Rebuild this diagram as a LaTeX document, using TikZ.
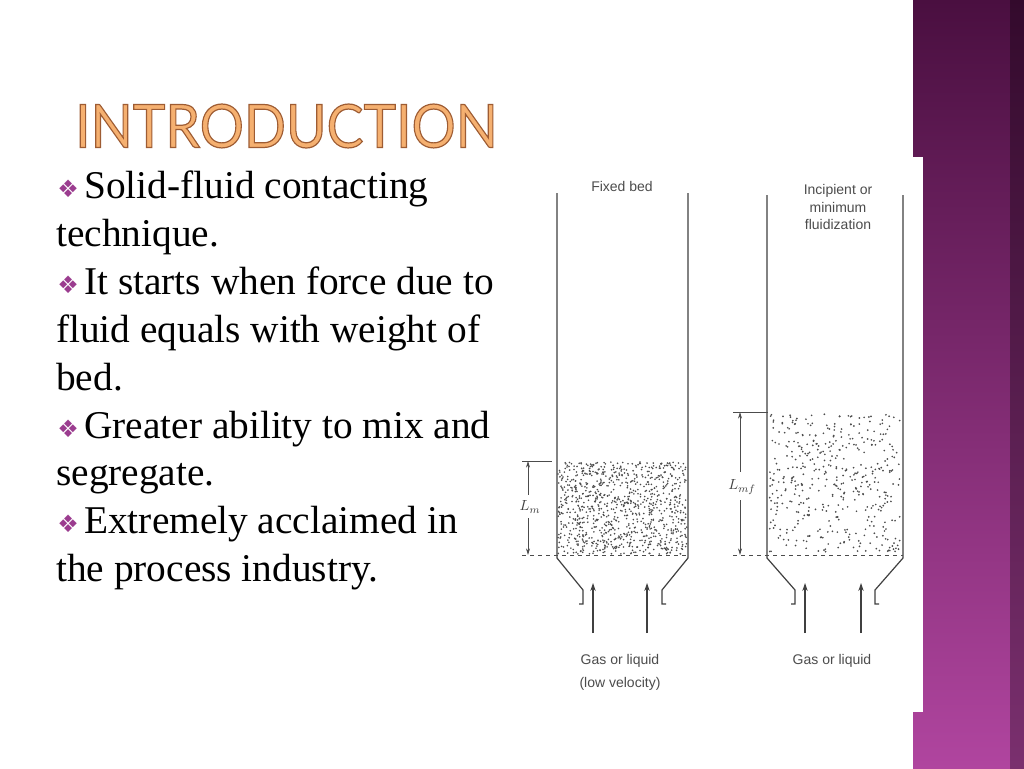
\documentclass[tikz,border=0pt]{standalone}
\usepackage{fontspec}
\setmainfont{Liberation Serif}
\newfontfamily\titlefont{Lato}
\newfontfamily\symfont{DejaVu Sans}
\newfontfamily\labfont{Liberation Sans}
\definecolor{bul}{HTML}{9B3C8F}
\definecolor{ptop}{HTML}{4A0F40}
\definecolor{pbot}{HTML}{B0459F}
\definecolor{tfill}{HTML}{F5B070}
\tikzset{wall/.style={draw=black!75,line width=0.9pt},
 dim/.style={draw=black!70,line width=0.6pt},
 arr/.style={draw=black!75,line width=0.8pt,-{Stealth[length=6pt,width=4pt]}},
 lab/.style={font=\labfont\fontsize{10.5}{13}\selectfont,text=black!70,inner sep=0pt},
 btxt/.style={anchor=base west,font=\fontsize{29.5}{30}\selectfont,inner sep=0pt}}
\usetikzlibrary{arrows.meta}
\begin{document}
\begin{tikzpicture}[x=0.75pt,y=-0.75pt]
\useasboundingbox (0,0) rectangle (1024,768);
\fill[white] (0,0) rectangle (1024,768);
% purple bar
\shade[top color=ptop,bottom color=pbot] (913,0) rectangle (1024,768);
\shade[left color=pbot!0!black,right color=black,opacity=0.3] (1010,0) rectangle (1024,768);
\fill[white] (905,157) rectangle (923,712);
% title
\node[anchor=west,inner sep=0pt,text=tfill,font=\titlefont\fontsize{45}{45}\selectfont,xscale=0.92] (title) at (75,126) {\special{pdf:code q 0.62 0.36 0.2 RG 0.9 w 2 Tr}INTRODUCTION\special{pdf:code 0 Tr Q}};
% bullets
\foreach \y/\t/\b in {198/Solid-fluid contacting/1,246/technique./0,294/It starts when force due to/1,342/fluid equals with weight of/0,390/bed./0,438/Greater ability to mix and/1,485/segregate./0,533/Extremely acclaimed in/1,581/the process industry./0}{
 \ifnum\b=1
  \node[anchor=base west,inner sep=0pt,text=bul,font=\symfont\fontsize{18}{18}\selectfont] at (57,\y-1) {❖};
  \node[btxt] at (84,\y) {\t};
 \else
  \node[btxt] at (56,\y) {\t};
 \fi}
% ---- fixed bed column
\draw[wall] (557,193) -- (557,558) -- (583,590) -- (583,604) -- (579,604);
\draw[wall] (688,193) -- (688,558) -- (662,590) -- (662,604) -- (666,604);
\pgfmathsetseed{7}
\foreach \i in {1,...,950}{\fill[black!70] (558+129*rnd,462+92*rnd) circle (0.9);}
\draw[dim,dashed] (522,555) -- (688,555);
\draw[dim] (522,461) -- (552,461);
\draw[dim,{Stealth[length=5pt,width=3pt]}-] (528,461) -- (528,495);
\draw[dim,-{Stealth[length=5pt,width=3pt]}] (528,518) -- (528,555);
\node[font=\itshape\fontsize{11}{11}\selectfont,text=black!75] (lm) at (530,507) {$L_m$};
\draw[arr] (593,633) -- (593,583);
\draw[arr] (647,633) -- (647,583);
\node[lab] (g1) at (620,661) {Gas or liquid};
\node[lab] (g2) at (620,684) {(low velocity)};
\node[lab] (fb) at (622,186) {Fixed bed};
% ---- fluidization column
\draw[wall] (767,195) -- (767,558) -- (795,590) -- (795,604) -- (791,604);
\draw[wall] (903,195) -- (903,558) -- (875,590) -- (875,604) -- (879,604);
\pgfmathsetseed{11}
\foreach \i in {1,...,450}{\fill[black!70] (769+132*rnd,414+138*rnd) circle (0.95);}
\draw[dim,dashed] (733,555) -- (903,555);
\draw[dim] (733,412) -- (768,412);
\draw[dim,{Stealth[length=5pt,width=3pt]}-] (740,412) -- (740,472);
\draw[dim,-{Stealth[length=5pt,width=3pt]}] (740,500) -- (740,555);
\node[font=\itshape\fontsize{11}{11}\selectfont,text=black!75] (lmf) at (742,487) {$L_{mf}$};
\draw[arr] (805,633) -- (805,583);
\draw[arr] (861,633) -- (861,583);
\node[lab] (g3) at (832,661) {Gas or liquid};
\node[lab,align=center] (inc) at (838,207) {Incipient or\\minimum\\fluidization};
\end{tikzpicture}
\end{document}
